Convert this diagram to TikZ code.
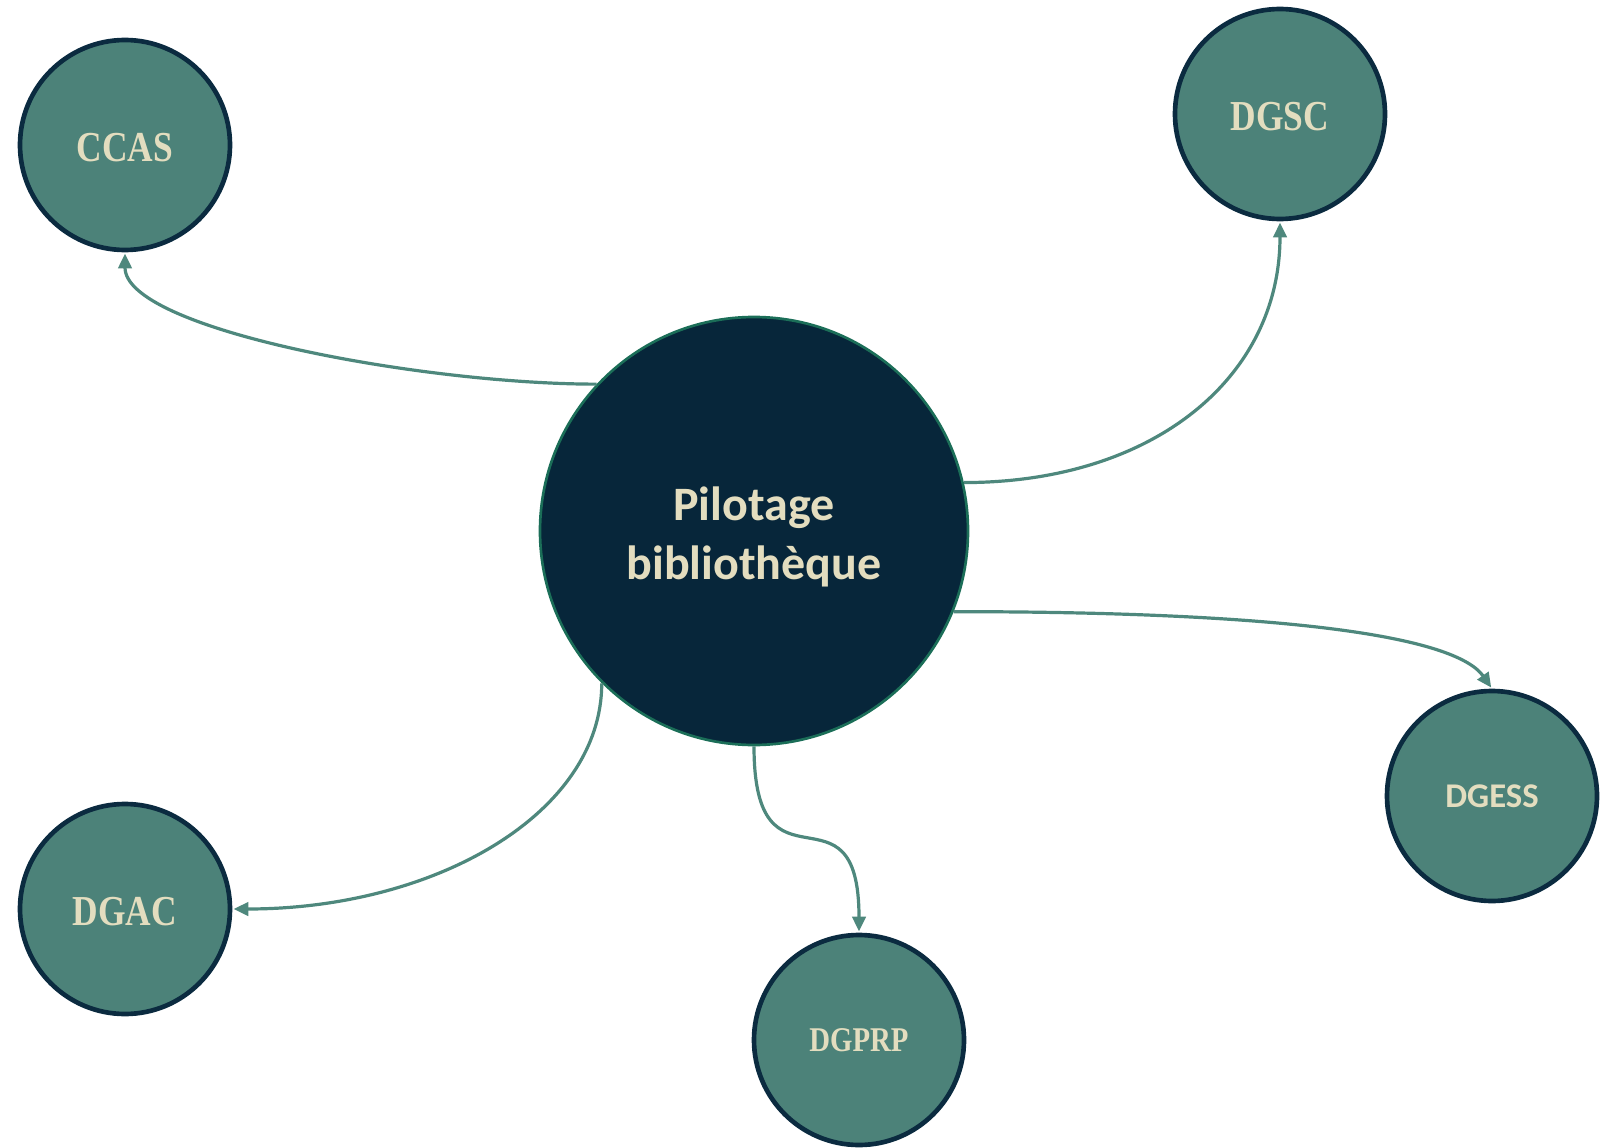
\documentclass[tikz,border=0pt]{standalone}
\usepackage{fontspec}
\setmainfont{Carlito}
\newfontfamily\bubbleserif[FakeStretch=0.83]{Liberation Serif}
\usetikzlibrary{arrows.meta}
\definecolor{hubfill}{HTML}{07263A}
\definecolor{hubline}{HTML}{1B6E58}
\definecolor{bubblefill}{HTML}{4C8279}
\definecolor{bubbleline}{HTML}{0B2B40}
\definecolor{linkcol}{HTML}{4E887D}
\definecolor{labeltext}{HTML}{E3DDBF}

\begin{document}
\begin{tikzpicture}[x=0.75pt,y=0.75pt,yscale=-1,xscale=1,
  bubble/.style={circle,draw=bubbleline,line width=3.5pt,fill=bubblefill,minimum size=157.5pt,inner sep=0pt,text=labeltext},
  big/.style={font=\bubbleserif\bfseries\fontsize{32}{38}\selectfont,text height=25pt,text depth=0pt},
  small/.style={font=\bubbleserif\bfseries\fontsize{26}{31}\selectfont},
  link/.style={draw=linkcol,line width=2.4pt,-{Triangle[length=11pt,width=10pt]},shorten >=1pt}]
\useasboundingbox (0,0) rectangle (1617,1148);

%Shape: Circle [hub]
\node[circle,draw=hubline,line width=2pt,fill=hubfill,minimum size=321pt,inner sep=0pt] (hub) at (754,531) {};
% Text Node
\node[text=labeltext,align=center,font=\bfseries\fontsize{36}{44}\selectfont] (hubtext) at (754,537) {Pilotage\\biblioth\`eque};

%Shape: Circle [satellites]
\node[bubble,big] (ccas) at (125,145) {CCAS};
\node[bubble,big] (dgsc) at (1280,114) {DGSC};
\node[bubble,font=\bfseries\fontsize{26}{31}\selectfont] (dgess) at (1492,796) {DGESS};
\node[bubble,big] (dgac) at (125,909) {DGAC};
\node[bubble,small] (dgprp) at (859,1040) {DGPRP};

%Curves
\draw[link] (hub.137) .. controls +(-175,0) and +(0,77) .. (ccas.south);
\draw[link] (hub.13.6) .. controls +(190,0) and +(0,156) .. (dgsc.south);
\draw[link] (hub.-22) .. controls +(350,0) and +(-35,-50) .. (dgess.north);
\draw[link] (hub.-135) .. controls +(0,130) and +(203,0) .. (dgac.east);
\draw[link] (hub.south) .. controls +(0,160) and +(0,-160) .. (dgprp.north);
\end{tikzpicture}
\end{document}
